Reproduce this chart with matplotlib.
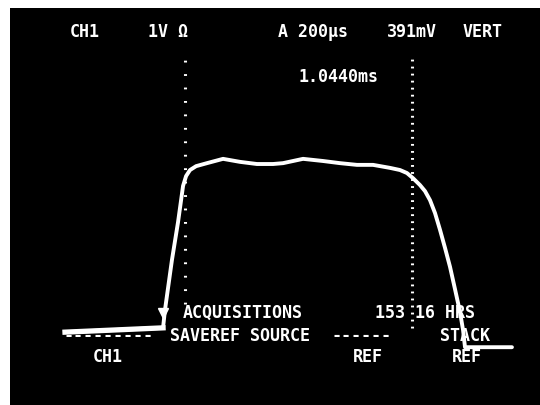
import matplotlib
matplotlib.use("Agg")
import matplotlib.pyplot as plt

# ---- data (time in microseconds, amplitude in volts) ----
trace_t = [-552, -101, -92, -60, -32, -18, -9, 5, 23, 51, 101, 175, 253, 331,
           405, 451, 543, 635, 713, 791, 865, 943, 989, 1021, 1049, 1081,
           1104, 1127, 1150, 1173, 1196, 1219, 1242, 1265, 1279, 1288, 1504]
trace_v = [-0.05, 0.05, 0.47, 1.63, 2.51, 3.02, 3.35, 3.58, 3.72, 3.81, 3.88,
           3.98, 3.91, 3.86, 3.86, 3.88, 3.98, 3.93, 3.88, 3.84, 3.84, 3.77,
           3.72, 3.65, 3.53, 3.37, 3.23, 3.02, 2.72, 2.33, 1.91, 1.47, 0.95,
           0.42, 0.00, -0.40, -0.40]
cursor_t = [0, 1044]
trigger_t = -101
trigger_v = 0.40
header_labels = ["CH1", "1V \u03a9", "A 200\u00b5s", "391mV", "VERT"]
delta_label = "1.0440ms"

W, H = 540, 405
fig = plt.figure(figsize=(W / 100, H / 100), dpi=100, facecolor="white")
ax = fig.add_axes([10 / W, 0, 530 / W, 397 / H])
ax.set_facecolor("black")
ax.set_xlim(-805, 1633)
ax.set_ylim(-1.744, 7.488)
ax.set_xticks([])
ax.set_yticks([])
for s in ax.spines.values():
    s.set_visible(False)

# trace
ax.plot(trace_t, trace_v, color="white", lw=2.8, solid_capstyle="round",
        solid_joinstyle="round")
# thicker left baseline
ax.plot(trace_t[:2], trace_v[:2], color="white", lw=3.8)
ax.plot([trigger_t], [trigger_v], marker="v", color="white", ms=7)

# cursors
ax.vlines(cursor_t[0], 0.6, 6.3, colors="white", lw=2.2,
          linestyles=(0, (0.6, 3.8)))
ax.vlines(cursor_t[1], 0.05, 6.3, colors="white", lw=2.2,
          linestyles=(0, (0.6, 1.7)))


def px(x, y, s, ha="left"):
    fig.text(x / W, 1 - y / H, s, color="white", ha=ha, va="center",
             family="DejaVu Sans Mono", weight="bold", fontsize=12)


header_x = [70, 148, 278, 387, 463]
for x, s in zip(header_x, header_labels):
    px(x, 32, s)
px(299, 77, delta_label)

px(183, 313, "ACQUISITIONS")
px(375, 313, "153 16 HRS")
px(63, 336, "---------")
px(170, 336, "SAVEREF SOURCE")
px(332, 336, "------")
px(440, 336, "STACK")
px(93, 357, "CH1")
px(353, 357, "REF")
px(452, 357, "REF")

fig.savefig("out.png", dpi=100, facecolor="white")
